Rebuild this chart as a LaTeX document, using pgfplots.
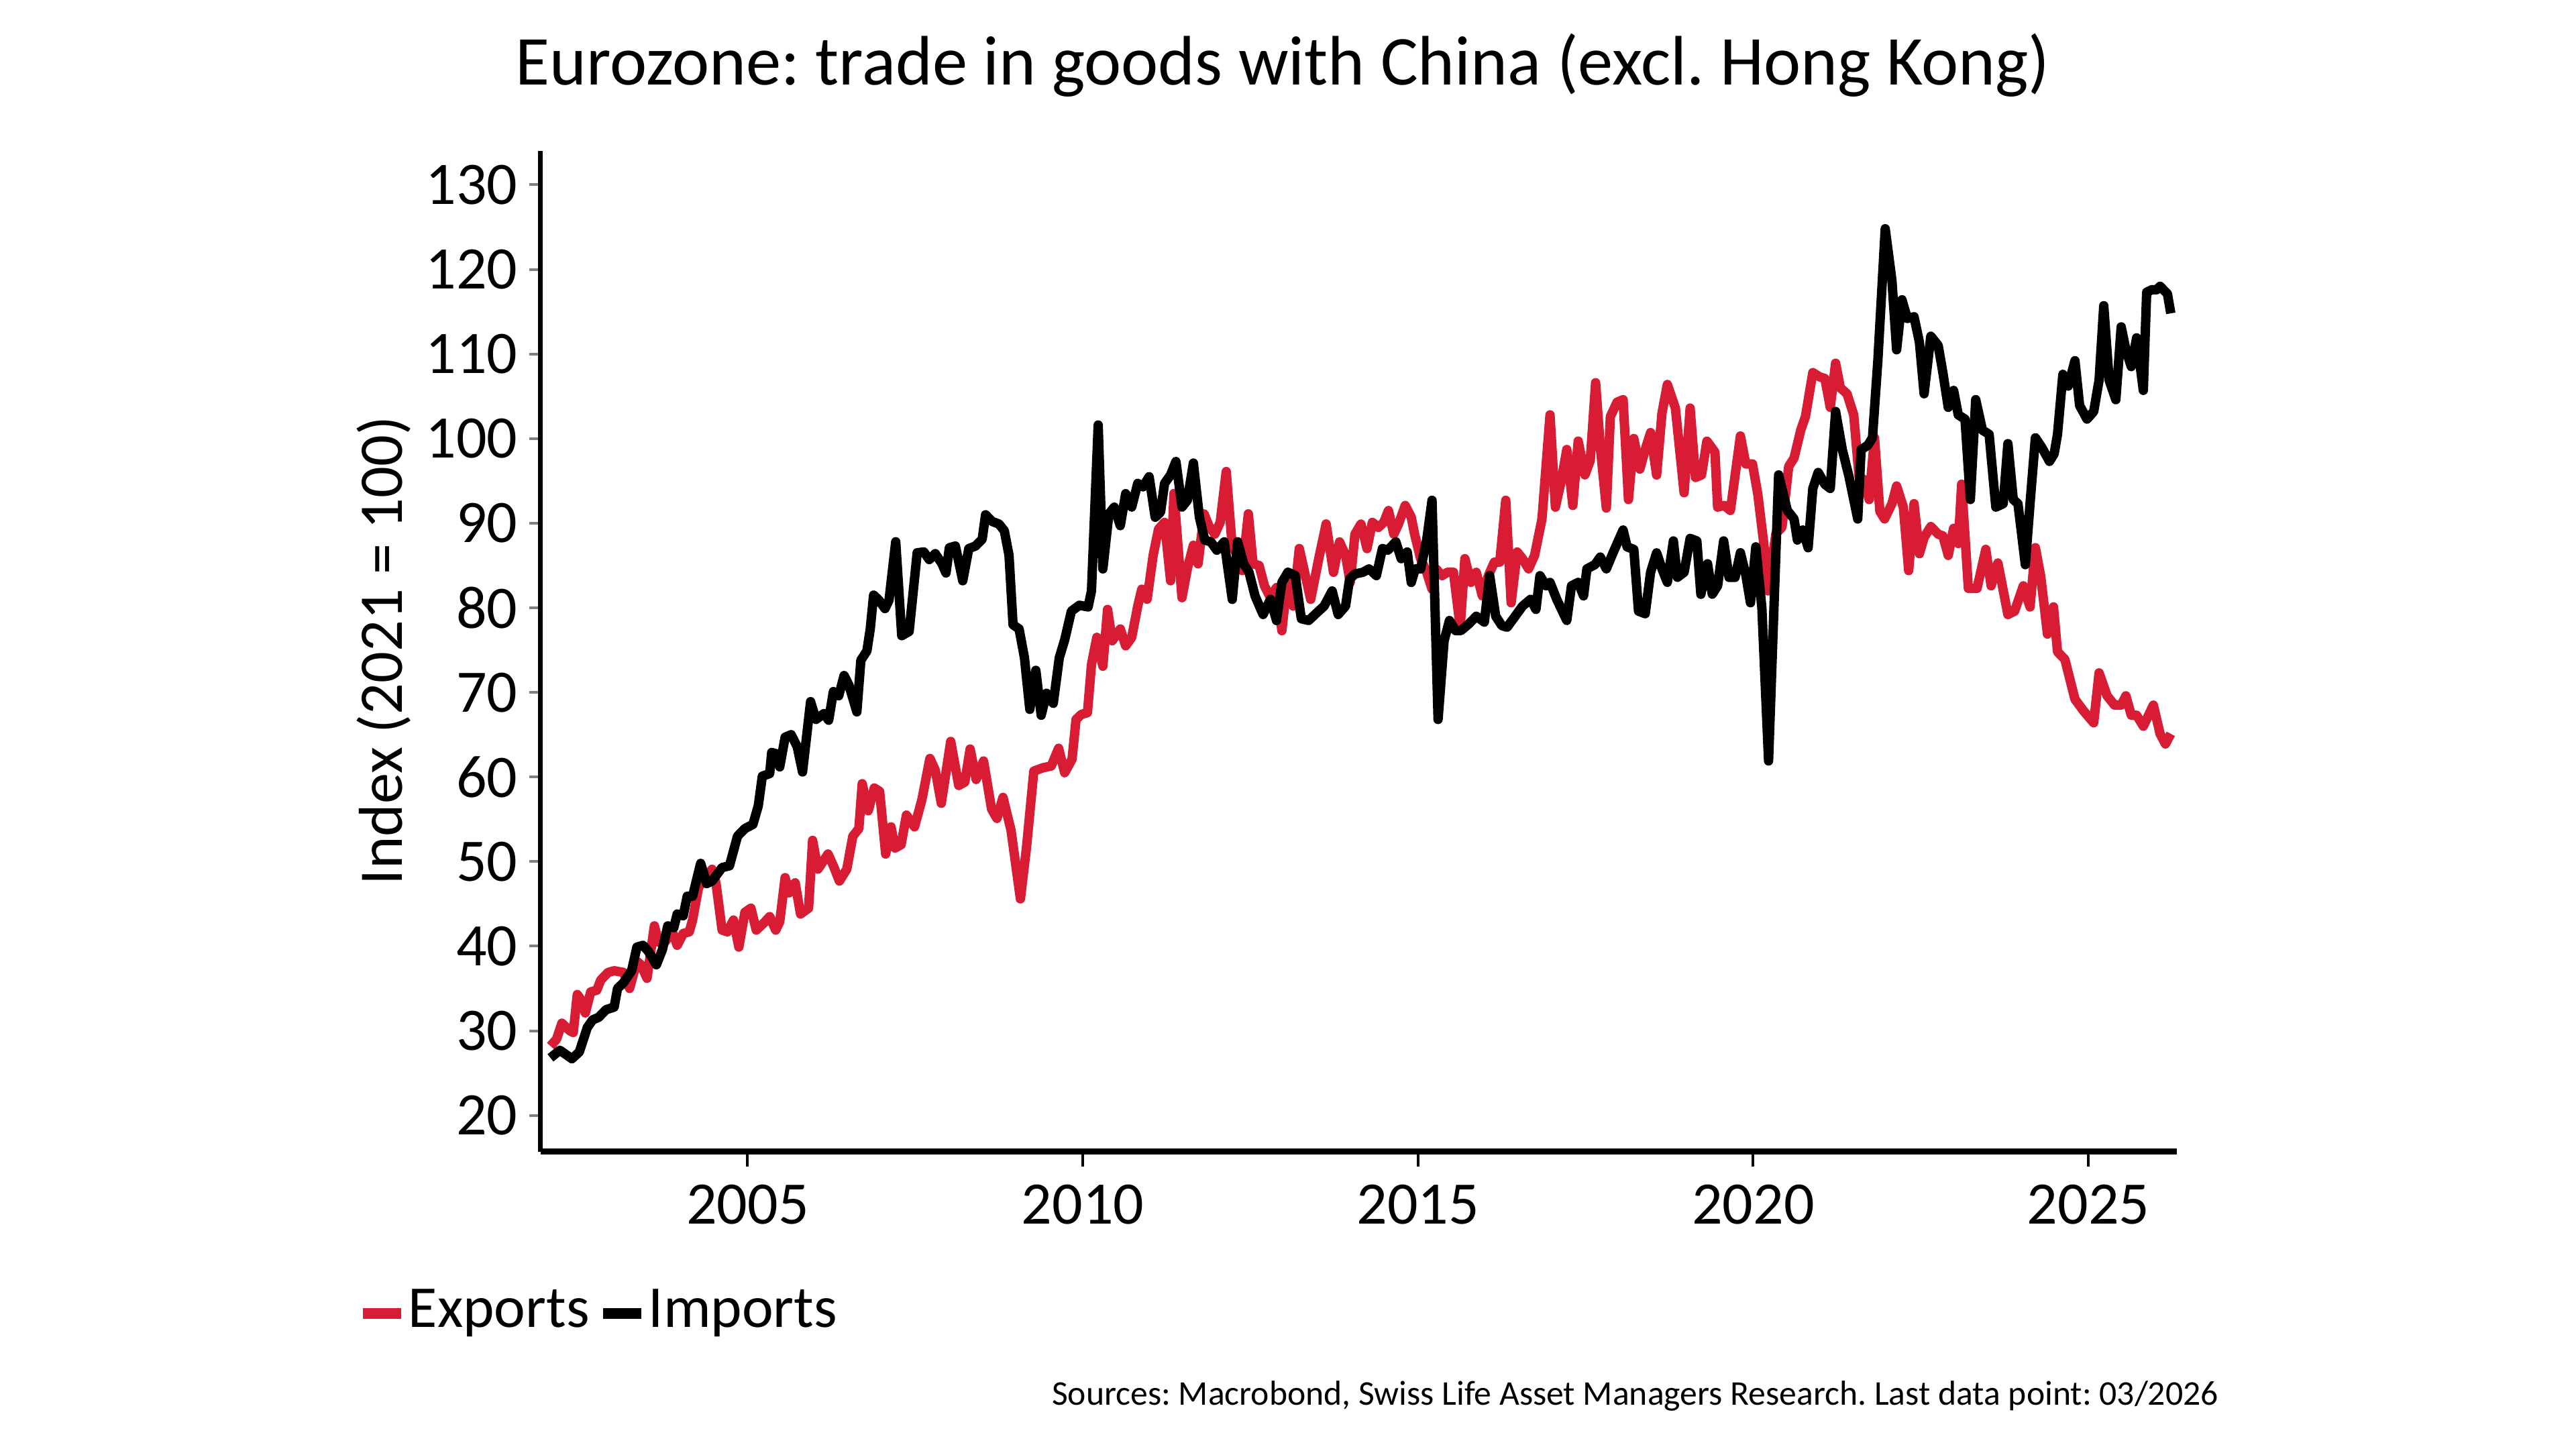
\documentclass[border=0pt]{standalone}
\usepackage{pgfplots}
\pgfplotsset{compat=1.18}
\usepackage{pgfplotstable}
\usepackage{fontspec}
\setmainfont{Carlito}
\definecolor{slred}{RGB}{215,28,52}
\frenchspacing

% Eurozone exports to China, index 2021 = 100
\pgfplotstableread{
year value
2002.06 28.2
2002.15 29.0
2002.23 30.9
2002.35 30.0
2002.40 29.8
2002.46 34.3
2002.52 33.6
2002.58 32.1
2002.66 34.6
2002.75 34.8
2002.81 36.0
2002.92 36.9
2003.01 37.1
2003.15 36.9
2003.24 35.0
2003.35 38.2
2003.41 37.8
2003.50 36.2
2003.61 42.4
2003.67 40.5
2003.78 40.6
2003.87 41.9
2003.95 40.1
2004.04 41.5
2004.13 41.7
2004.18 43.1
2004.27 47.0
2004.39 48.1
2004.47 49.1
2004.53 47.4
2004.62 41.9
2004.70 41.7
2004.79 43.1
2004.87 39.9
2004.96 44.0
2005.05 44.5
2005.13 41.9
2005.25 42.8
2005.33 43.5
2005.42 41.9
2005.48 42.9
2005.56 48.1
2005.62 46.3
2005.71 47.5
2005.79 43.8
2005.91 44.5
2005.97 52.5
2006.05 49.1
2006.20 50.9
2006.28 49.5
2006.37 47.7
2006.48 49.1
2006.57 53.0
2006.66 53.9
2006.71 59.2
2006.80 56.0
2006.89 58.7
2006.97 58.3
2007.06 50.9
2007.14 54.1
2007.20 51.6
2007.29 52.0
2007.37 55.5
2007.49 54.1
2007.60 57.3
2007.72 62.2
2007.80 60.8
2007.89 56.9
2008.03 64.2
2008.15 59.0
2008.24 59.4
2008.32 63.3
2008.41 59.7
2008.52 61.9
2008.64 56.2
2008.72 55.1
2008.81 57.6
2008.93 53.7
2009.07 45.6
2009.16 51.6
2009.27 60.7
2009.41 61.1
2009.53 61.3
2009.64 63.4
2009.73 60.5
2009.84 62.1
2009.90 66.8
2009.98 67.4
2010.07 67.6
2010.13 73.3
2010.21 76.5
2010.30 73.1
2010.37 79.8
2010.44 76.1
2010.56 77.5
2010.64 75.5
2010.73 76.5
2010.82 80.2
2010.88 82.2
2010.96 81.0
2011.05 86.2
2011.13 89.3
2011.22 90.1
2011.31 83.2
2011.36 93.5
2011.48 81.2
2011.56 84.6
2011.65 87.4
2011.72 85.2
2011.81 91.1
2011.88 89.7
2011.97 88.7
2012.05 90.1
2012.14 96.1
2012.23 87.2
2012.31 86.2
2012.38 84.4
2012.47 91.1
2012.54 85.2
2012.63 85.0
2012.71 82.6
2012.80 81.2
2012.89 82.4
2012.97 77.3
2013.06 83.8
2013.14 80.2
2013.23 87.0
2013.32 83.8
2013.40 81.0
2013.52 85.8
2013.63 89.9
2013.74 84.2
2013.83 87.8
2013.92 86.2
2013.99 83.0
2014.06 88.7
2014.15 89.9
2014.24 87.0
2014.32 90.1
2014.41 89.5
2014.49 90.1
2014.56 91.5
2014.64 88.7
2014.71 89.9
2014.81 92.1
2014.90 90.7
2014.95 88.7
2015.04 85.8
2015.13 84.2
2015.21 82.2
2015.27 84.6
2015.36 83.8
2015.44 84.2
2015.53 84.2
2015.63 77.7
2015.70 85.8
2015.79 83.0
2015.87 84.2
2015.96 81.4
2016.05 83.8
2016.14 85.4
2016.22 85.4
2016.31 92.7
2016.39 80.6
2016.48 86.6
2016.56 85.8
2016.65 84.6
2016.74 86.2
2016.85 90.5
2016.97 102.8
2017.05 91.9
2017.14 95.1
2017.22 98.7
2017.31 92.1
2017.39 99.7
2017.49 95.7
2017.57 97.4
2017.65 106.6
2017.72 99.0
2017.81 91.8
2017.87 102.6
2017.97 104.3
2018.06 104.6
2018.14 92.8
2018.22 100.0
2018.31 96.4
2018.39 98.7
2018.47 100.7
2018.56 95.7
2018.64 103.0
2018.72 106.4
2018.84 103.6
2018.97 93.6
2019.06 103.6
2019.14 95.4
2019.23 95.7
2019.31 99.7
2019.43 98.4
2019.47 91.9
2019.57 92.1
2019.66 91.5
2019.81 100.3
2019.89 97.0
2019.99 97.0
2020.07 93.4
2020.16 87.5
2020.22 82.0
2020.34 88.8
2020.43 89.5
2020.53 96.7
2020.61 97.7
2020.71 101.0
2020.78 102.6
2020.89 107.8
2020.99 107.3
2021.07 107.1
2021.15 103.7
2021.23 108.9
2021.30 106.0
2021.40 105.3
2021.50 102.8
2021.58 95.5
2021.66 95.1
2021.73 92.8
2021.81 100.1
2021.89 91.4
2021.96 90.5
2022.07 92.3
2022.14 94.4
2022.24 91.9
2022.32 84.4
2022.40 92.3
2022.48 86.4
2022.55 88.3
2022.65 89.6
2022.76 88.7
2022.83 88.5
2022.91 86.2
2022.99 89.4
2023.06 87.6
2023.11 94.6
2023.21 82.3
2023.34 82.3
2023.47 86.9
2023.55 82.6
2023.65 85.3
2023.70 83.3
2023.80 79.2
2023.90 79.6
2024.03 82.6
2024.13 80.1
2024.21 87.1
2024.29 83.7
2024.39 76.9
2024.48 80.1
2024.54 74.8
2024.65 73.9
2024.80 69.2
2024.93 67.8
2025.08 66.4
2025.16 72.3
2025.28 69.6
2025.39 68.5
2025.49 68.5
2025.56 69.6
2025.64 67.3
2025.72 67.3
2025.82 66.0
2025.97 68.5
2026.07 65.1
2026.15 63.9
2026.23 65.1
}\exports

% Eurozone imports from China, index 2021 = 100
\pgfplotstableread{
year value
2002.06 26.8
2002.20 27.7
2002.38 26.7
2002.49 27.5
2002.61 30.4
2002.69 31.3
2002.78 31.6
2002.89 32.5
2003.01 32.8
2003.06 35.0
2003.15 35.7
2003.27 37.1
2003.35 39.9
2003.44 40.1
2003.52 39.4
2003.64 37.8
2003.73 39.6
2003.81 42.4
2003.90 42.2
2003.95 43.8
2004.04 43.6
2004.10 45.9
2004.18 45.9
2004.30 49.8
2004.39 47.4
2004.47 47.7
2004.62 49.3
2004.73 49.5
2004.85 53.0
2004.96 53.9
2005.08 54.4
2005.16 56.6
2005.22 60.1
2005.33 60.4
2005.36 62.9
2005.45 62.7
2005.48 61.2
2005.56 64.7
2005.65 65.0
2005.74 63.6
2005.82 60.6
2005.94 68.9
2006.02 66.8
2006.14 67.5
2006.21 66.7
2006.28 70.1
2006.36 69.6
2006.44 72.0
2006.51 70.9
2006.63 67.7
2006.69 73.8
2006.78 74.9
2006.83 77.5
2006.88 81.5
2006.96 80.9
2007.05 79.9
2007.11 80.9
2007.21 87.8
2007.30 76.7
2007.41 77.2
2007.53 86.5
2007.63 86.6
2007.71 85.7
2007.80 86.4
2007.90 85.2
2007.96 84.1
2008.01 87.1
2008.10 87.3
2008.21 83.2
2008.30 87.0
2008.40 87.3
2008.50 88.1
2008.55 91.0
2008.65 90.2
2008.75 89.9
2008.83 89.1
2008.90 86.2
2008.96 78.0
2009.05 77.5
2009.13 74.1
2009.21 68.0
2009.30 72.6
2009.38 67.3
2009.46 69.9
2009.56 68.7
2009.65 74.1
2009.73 76.2
2009.83 79.6
2009.95 80.3
2010.08 80.1
2010.13 82.0
2010.23 101.6
2010.30 84.6
2010.39 91.1
2010.47 91.9
2010.56 89.7
2010.64 93.5
2010.73 91.9
2010.82 94.7
2010.90 94.3
2010.99 95.5
2011.08 90.7
2011.16 91.3
2011.22 94.7
2011.31 95.7
2011.39 97.3
2011.48 91.9
2011.56 92.7
2011.65 97.1
2011.74 90.7
2011.82 88.0
2011.91 87.8
2012.00 86.8
2012.11 87.8
2012.23 81.0
2012.31 87.8
2012.40 85.2
2012.48 84.2
2012.57 81.4
2012.69 79.2
2012.80 81.0
2012.89 78.5
2012.97 83.0
2013.06 84.2
2013.17 83.8
2013.26 78.7
2013.37 78.5
2013.49 79.4
2013.60 80.2
2013.72 82.0
2013.81 79.2
2013.92 80.2
2013.98 83.4
2014.06 84.0
2014.18 84.2
2014.27 84.6
2014.38 83.8
2014.47 87.0
2014.55 86.8
2014.67 87.8
2014.75 85.8
2014.84 86.6
2014.90 83.0
2014.96 84.6
2015.04 84.6
2015.13 88.0
2015.21 92.7
2015.30 66.8
2015.39 76.1
2015.47 78.5
2015.56 77.3
2015.64 77.3
2015.76 78.1
2015.87 79.0
2015.99 78.3
2016.07 83.8
2016.16 79.0
2016.25 77.9
2016.33 77.7
2016.45 79.0
2016.56 80.2
2016.68 81.0
2016.76 79.8
2016.82 83.8
2016.91 82.6
2016.97 83.0
2017.07 81.0
2017.22 78.5
2017.29 82.6
2017.39 83.0
2017.47 81.4
2017.52 84.6
2017.64 85.1
2017.72 86.0
2017.81 84.6
2017.91 86.5
2018.06 89.2
2018.12 87.2
2018.22 86.9
2018.29 79.6
2018.39 79.3
2018.47 84.2
2018.56 86.5
2018.64 84.6
2018.72 83.0
2018.81 87.9
2018.87 83.6
2018.97 84.2
2019.06 88.2
2019.16 87.9
2019.22 81.6
2019.32 85.2
2019.39 81.6
2019.47 82.6
2019.56 87.9
2019.64 83.6
2019.73 83.6
2019.81 86.5
2019.89 83.9
2019.96 80.6
2020.04 87.2
2020.13 80.0
2020.23 61.9
2020.38 95.7
2020.51 91.5
2020.61 90.5
2020.66 88.0
2020.74 89.2
2020.82 87.1
2020.89 94.1
2020.97 96.0
2021.07 94.6
2021.15 94.1
2021.23 103.2
2021.33 98.7
2021.43 95.5
2021.56 90.5
2021.61 98.7
2021.71 99.2
2021.78 100.1
2021.86 109.2
2021.97 124.8
2022.07 118.7
2022.14 110.5
2022.22 116.4
2022.30 114.2
2022.40 114.4
2022.48 111.4
2022.55 105.3
2022.65 112.1
2022.76 111.0
2022.83 107.8
2022.91 103.7
2022.99 105.7
2023.06 102.8
2023.16 102.3
2023.24 92.8
2023.32 104.6
2023.42 101.0
2023.52 100.5
2023.62 91.9
2023.73 92.3
2023.80 99.4
2023.88 92.8
2023.95 92.3
2024.06 85.1
2024.13 92.3
2024.21 100.1
2024.31 98.9
2024.42 97.3
2024.49 98.2
2024.54 100.5
2024.62 107.6
2024.70 106.2
2024.80 109.2
2024.87 103.9
2024.98 102.3
2025.08 103.2
2025.16 106.9
2025.23 115.7
2025.31 106.9
2025.41 104.6
2025.49 113.2
2025.56 110.5
2025.64 108.5
2025.72 111.9
2025.82 105.7
2025.87 117.3
2025.95 117.6
2026.02 117.6
2026.07 118.0
2026.18 117.1
2026.23 114.8
}\imports

\begin{document}
\begin{tikzpicture}
\path[use as bounding box] (-80.6pt,-44.3pt) rectangle (303.4pt,171.7pt);
\begin{axis}[
  at={(0pt,0pt)}, anchor=south west,
  scale only axis,
  width=243.9pt, height=149.2pt,
  xmin=2001.914, xmax=2026.32,
  ymin=15.7, ymax=134,
  axis x line*=bottom, axis y line*=left,
  x axis line style={line width=0.9pt},
  y axis line style={line width=0.7pt},
  xtick={2005,2010,2015,2020,2025},
  ytick={20,30,...,130},
  tick align=outside,
  xtick style={black, line width=0.4pt},
  ytick style={gray, line width=0.4pt},
  xtick style={/pgfplots/major tick length=2.2pt},
  ytick style={/pgfplots/major tick length=1.7pt},
  /pgf/number format/1000 sep={},
  /pgf/number format/assume math mode=true,
  tick label style={font=\fontsize{9}{10}\selectfont, inner sep=0pt},
  xticklabel style={anchor=north, yshift=-0.4pt},
  yticklabel style={anchor=east, xshift=1.0pt},
  legend columns=-1,
  legend style={at={(0,0)}, anchor=north west, xshift=-27.3pt, yshift=-20.5pt,
    draw=none, fill=none, inner sep=0pt, outer sep=0pt,
    font=\fontsize{8.85}{10}\selectfont,
    nodes={inner sep=0pt},
    /tikz/every odd column/.style={column sep=0.3pt},
    /tikz/every even column/.style={column sep=1.2pt}},
  legend image code/.code={\draw[#1, line width=1.6pt] (0pt,0pt) -- (5.7pt,0pt);},
]
\addplot[slred, line width=1.4pt, line join=round] table[x=year, y=value] {\exports};
\addlegendentry{Exports}
\addplot[black, line width=1.4pt, line join=round] table[x=year, y=value] {\imports};
\addlegendentry{Imports}
\end{axis}
\node[anchor=base, font=\fontsize{10.45}{12}\selectfont] at (110.65pt,159.0pt)
  {Eurozone: trade in goods with China (excl. Hong Kong)};
\node[rotate=90, anchor=base, font=\fontsize{9.25}{11}\selectfont] at (-20.6pt,74.7pt)
  {Index (2021 = 100)};
\node[anchor=base east, inner sep=0pt, font=\fontsize{5.17}{6}\selectfont] at (250.3pt,-37.8pt)
  {Sources: Macrobond, Swiss Life Asset Managers Research. Last data point: 03/2026};
\end{tikzpicture}
\end{document}
